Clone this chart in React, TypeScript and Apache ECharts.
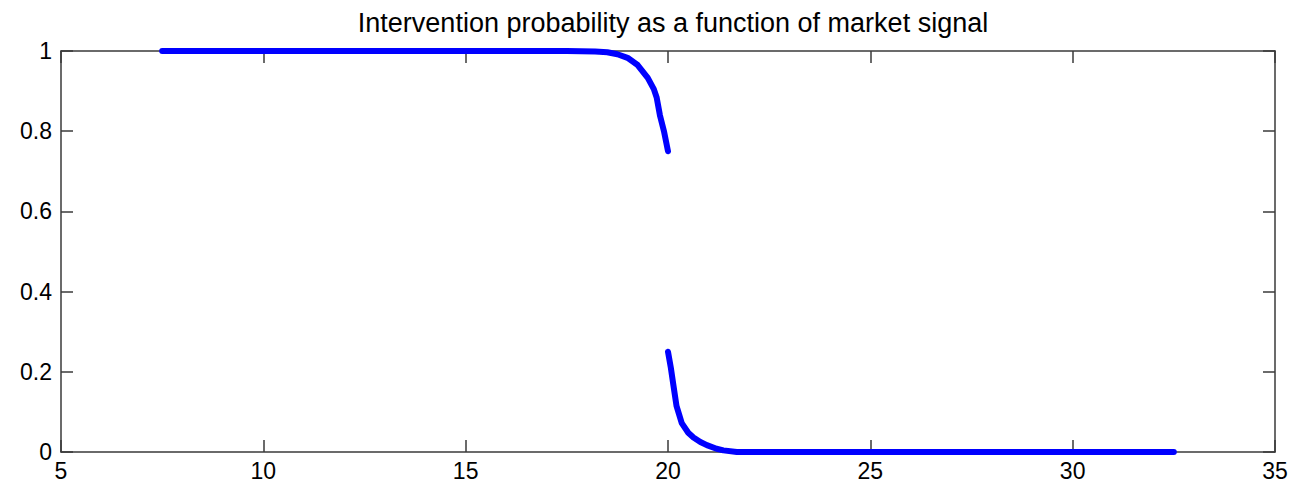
import React, { useEffect, useRef } from "react";
import * as echarts from "echarts";

const titleText = "Intervention probability as a function of market signal";

const upperX = [7.5, 10, 12, 14, 16, 17.5, 18.2, 18.5, 18.75, 19.0, 19.25, 19.5, 19.65, 19.72, 19.8, 19.9, 20.0];
const upperY = [1, 1, 1, 1, 1, 1, 0.999, 0.997, 0.992, 0.983, 0.965, 0.933, 0.905, 0.884, 0.84, 0.8, 0.75];

const lowerX = [20.0, 20.07, 20.13, 20.21, 20.34, 20.5, 20.63, 20.8, 20.96, 21.2, 21.37, 21.7, 25, 30, 32.5];
const lowerY = [0.25, 0.21, 0.169, 0.115, 0.072, 0.048, 0.036, 0.025, 0.017, 0.008, 0.004, 0.0, 0, 0, 0];

const xTicks = [5, 10, 15, 20, 25, 30, 35];
const yTicks = [0, 0.2, 0.4, 0.6, 0.8, 1];

const FONT = "'Liberation Sans', Arial, sans-serif";
const AXIS_COLOR = "#3a3a3a";

export default function App() {
  const ref = useRef<HTMLDivElement>(null);
  useEffect(() => {
    if (!ref.current) return;
    const chart = echarts.init(ref.current, null, { renderer: "svg" });
    const pair = (xs: number[], ys: number[]) => xs.map((x, i) => [x, ys[i]]);
    const axisCommon = {
      axisLine: { show: true, onZero: false, lineStyle: { color: AXIS_COLOR, width: 1.5 } },
      axisTick: { show: true, inside: true, length: 12, lineStyle: { color: AXIS_COLOR, width: 1.5 } },
      splitLine: { show: false },
    };
    chart.setOption({
      animation: false,
      backgroundColor: "#ffffff",
      title: {
        text: titleText,
        left: 668,
        textAlign: "center",
        top: 4,
        textStyle: { fontFamily: FONT, fontSize: 27, fontWeight: "normal", color: "#000" },
      },
      grid: { left: 61, right: 21, top: 51, bottom: 40, containLabel: false },
      xAxis: [
        {
          type: "value",
          min: xTicks[0],
          max: xTicks[xTicks.length - 1],
          interval: 5,
          position: "bottom",
          ...axisCommon,
          axisLabel: { color: "#000", fontFamily: FONT, fontSize: 23, margin: 7 },
        },
        {
          type: "value",
          min: xTicks[0],
          max: xTicks[xTicks.length - 1],
          interval: 5,
          position: "top",
          ...axisCommon,
          axisLabel: { show: false },
        },
      ],
      yAxis: [
        {
          type: "value",
          min: yTicks[0],
          max: yTicks[yTicks.length - 1],
          interval: 0.2,
          position: "left",
          ...axisCommon,
          axisLabel: { color: "#000", fontFamily: FONT, fontSize: 23, margin: 9 },
        },
        {
          type: "value",
          min: yTicks[0],
          max: yTicks[yTicks.length - 1],
          interval: 0.2,
          position: "right",
          ...axisCommon,
          axisLabel: { show: false },
        },
      ],
      series: [
        {
          type: "line",
          data: pair(upperX, upperY),
          showSymbol: false,
          symbol: "none",
          lineStyle: { color: "#0000ff", width: 6, cap: "round", join: "round" },
          z: 1,
        },
        {
          type: "line",
          data: pair(lowerX, lowerY),
          showSymbol: false,
          symbol: "none",
          lineStyle: { color: "#0000ff", width: 6, cap: "round", join: "round" },
          z: 1,
        },
      ],
    });
    return () => chart.dispose();
  }, []);
  return (
    <div
      ref={ref}
      style={{ position: "fixed", left: 0, top: 0, width: 1296, height: 492, background: "#fff" }}
    />
  );
}
